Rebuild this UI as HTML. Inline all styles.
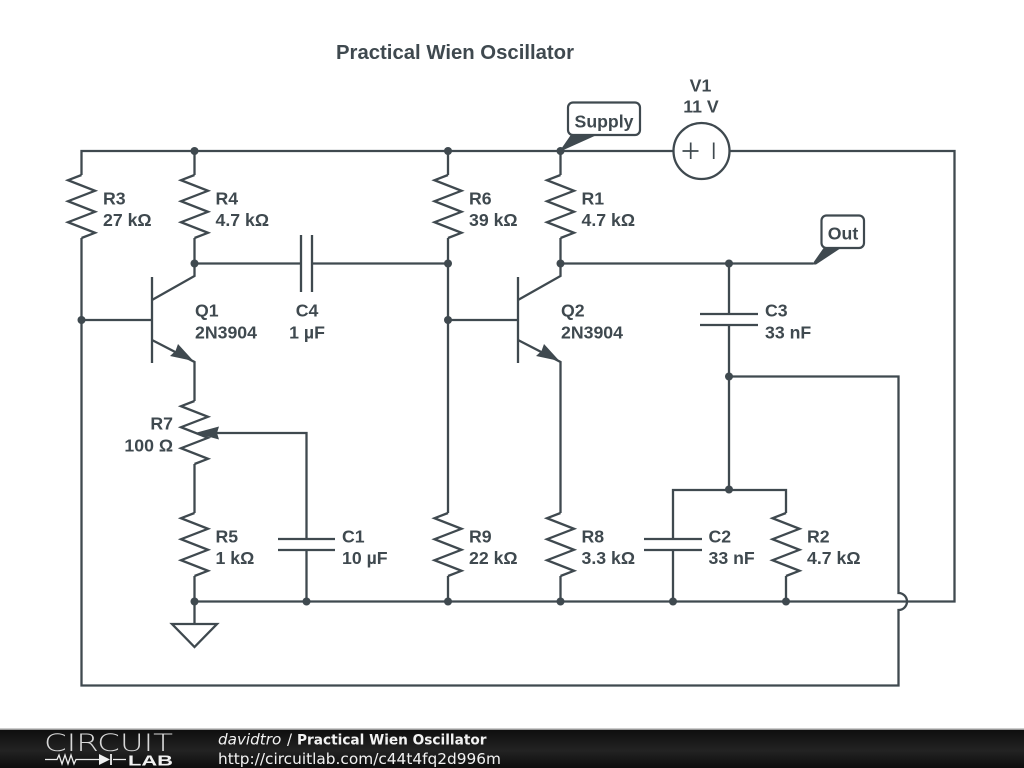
<!DOCTYPE html>
<html><head><meta charset="utf-8"><style>
html,body{margin:0;padding:0;background:#fff;width:1024px;height:768px;overflow:hidden}
svg{display:block}
.w{fill:none;stroke:#3f494f;stroke-width:2.3;stroke-linejoin:miter}
.p{fill:none;stroke:#3f494f;stroke-width:2.3}
.f{fill:#3f494f;stroke:none}
text.l{font:bold 17.7px "Liberation Sans",sans-serif;fill:#3f494f}
</style></head><body>
<svg width="1024" height="768" viewBox="0 0 1024 768" xmlns="http://www.w3.org/2000/svg">
<defs>
<linearGradient id="bar" x1="0" y1="0" x2="0" y2="1"><stop offset="0" stop-color="#0d0d0d"/><stop offset=".55" stop-color="#232323"/><stop offset="1" stop-color="#0d0d0d"/></linearGradient>
<path id="res" d="M0 0L-13.5 5.2L13.5 15.8L-13.5 26.2L13.5 36.8L-13.5 47.2L13.5 57.8L0 63" class="w"/>
</defs>
<text x="336" y="59" textLength="238" lengthAdjust="spacingAndGlyphs" style="font:bold 20.3px 'Liberation Sans',sans-serif;fill:#3f494f">Practical Wien Oscillator</text>

<!-- wires -->
<path class="w" d="M673 151H81.5V175M81.5 238V685.5H898.5V610A8.5 8.5 0 0 0 898.5 593V376.5H729"/>
<path class="w" d="M730 151H954.5V601.5H194.5"/>
<path class="w" d="M194.5 151V175M194.500 238V276L152 300M194.500 263.500H301M312 263.500H448M81.500 320H152M152 340L194.500 362V401M194.500 464V513M194.500 576V624"/>
<path class="w" d="M152 277V363M518 277V363M448 151V175M448 238V513M448 576V601M448 320H518"/>
<path class="w" d="M560.500 151V175M560.500 238V276L518 300M518 340L560.500 362V513M560.500 576V601M560.500 263.500H813"/>
<path class="w" d="M729 263.500V314M729 325V490M673 539V490H786V513M786 576V601M673 550V601"/>
<path class="w" d="M306.500 539V433H215M306.500 550V601"/>
<!-- capacitors -->
<path class="p" d="M301 235V292M312 235V292M700 314H758M700 325H758M278 539H335M278 550H335M644 539H702M644 550H702"/>
<!-- resistors -->
<use href="#res" x="81.5" y="175"/><use href="#res" x="194.5" y="175"/><use href="#res" x="448" y="175"/><use href="#res" x="560.5" y="175"/>
<use href="#res" x="194.5" y="401"/><use href="#res" x="194.5" y="513"/><use href="#res" x="448" y="513"/><use href="#res" x="560.5" y="513"/><use href="#res" x="786" y="513"/>
<!-- arrows -->
<path class="f" d="M193.500 361L170 356L175.500 351L178 344Z"/>
<path class="f" d="M559.500 361L536 356L541.500 351L544 344Z"/>
<path class="f" d="M195 433L219 426.500L217 433L219 439.500Z"/>
<!-- ground -->
<path class="w" d="M172 624H217L194.500 647Z"/>
<!-- source -->
<circle cx="701.5" cy="151" r="28" fill="#fff" stroke="#3f494f" stroke-width="2.300"/>
<path fill="none" stroke="#3f494f" stroke-width="1.700" d="M682.500 151H698.500M690.700 142.500V159M713.700 142.500V159"/>
<!-- dots -->
<g class="f">
<circle cx="194.5" cy="151" r="4"/><circle cx="448" cy="151" r="4"/><circle cx="560.5" cy="151" r="4"/>
<circle cx="194.5" cy="263.5" r="4"/><circle cx="448" cy="263.5" r="4"/><circle cx="560.5" cy="263.5" r="4"/><circle cx="729" cy="263.5" r="4"/>
<circle cx="81.5" cy="320" r="4"/><circle cx="448" cy="320" r="4"/><circle cx="729" cy="376.5" r="4"/><circle cx="729" cy="489.5" r="4"/>
<circle cx="194.5" cy="601.5" r="4"/><circle cx="306.5" cy="601.5" r="4"/><circle cx="448" cy="601.5" r="4"/><circle cx="560.5" cy="601.5" r="4"/><circle cx="673" cy="601.5" r="4"/><circle cx="786" cy="601.5" r="4"/>
</g>
<!-- flags -->
<path class="f" d="M559 152L571.500 134H599Z"/>
<rect x="568" y="102.500" width="72" height="32.500" rx="5" fill="#fff" stroke="#3f494f" stroke-width="2.200"/>
<path class="f" d="M812 264.500L825 246H844L816 264.500Z"/>
<rect x="821.500" y="215.500" width="42.500" height="32.500" rx="5" fill="#fff" stroke="#3f494f" stroke-width="2.200"/>
<!-- labels -->
<g transform="translate(0,0.5)">
<text class="l" x="604" y="127" text-anchor="middle">Supply</text>
<text class="l" x="843" y="239" text-anchor="middle">Out</text>
<text class="l" x="700.500" y="91" text-anchor="middle">V1</text><text class="l" x="701" y="112" text-anchor="middle">11 V</text>
<text class="l" x="103" y="204">R3</text><text class="l" x="103" y="225.500">27 kΩ</text>
<text class="l" x="215.500" y="204">R4</text><text class="l" x="215.500" y="225.500">4.7 kΩ</text>
<text class="l" x="469" y="204">R6</text><text class="l" x="469" y="225.500">39 kΩ</text>
<text class="l" x="581.500" y="204">R1</text><text class="l" x="581.500" y="225.500">4.7 kΩ</text>
<text class="l" x="195" y="316">Q1</text><text class="l" x="195" y="338">2N3904</text>
<text class="l" x="561" y="316">Q2</text><text class="l" x="561" y="338">2N3904</text>
<text class="l" x="307" y="316" text-anchor="middle">C4</text><text class="l" x="307" y="338" text-anchor="middle">1 µF</text>
<text class="l" x="765" y="316">C3</text><text class="l" x="765" y="338">33 nF</text>
<text class="l" x="173" y="429" text-anchor="end">R7</text><text class="l" x="173" y="451" text-anchor="end">100 Ω</text>
<text class="l" x="215.500" y="542">R5</text><text class="l" x="215.500" y="563.500">1 kΩ</text>
<text class="l" x="342" y="542">C1</text><text class="l" x="342" y="563.500">10 µF</text>
<text class="l" x="469" y="542">R9</text><text class="l" x="469" y="563.500">22 kΩ</text>
<text class="l" x="581.500" y="542">R8</text><text class="l" x="581.500" y="563.500">3.3 kΩ</text>
<text class="l" x="708.500" y="542">C2</text><text class="l" x="708.500" y="563.500">33 nF</text>
<text class="l" x="807" y="542">R2</text><text class="l" x="807" y="563.500">4.7 kΩ</text>
</g>
<!-- footer -->
<rect x="0" y="729" width="1024" height="39" fill="url(#bar)"/>
<rect x="0" y="728.500" width="1024" height="1.500" fill="#999"/>
<text x="44" y="751" textLength="129" lengthAdjust="spacingAndGlyphs" style="font-family:'DejaVu Sans',sans-serif;font-weight:200;font-size:24px;fill:#d8d8d8">CIRCUIT</text>
<path fill="none" stroke="#eee" stroke-width="1.300" d="M45 759.500H57L59 755L62 764L65 755L68 764L71 755L74 764L76 759.500H99M113 759.500H126"/>
<path fill="#eee" d="M99 754L110 759.500L99 765Z"/>
<path fill="none" stroke="#eee" stroke-width="1.800" d="M111 754V765"/>
<text x="128" y="765.500" textLength="45" lengthAdjust="spacingAndGlyphs" style="font:bold 15px 'Liberation Sans',sans-serif;fill:#f2f2f2">LAB</text>
<text x="218" y="744.500" style="font:italic 15.200px 'DejaVu Sans',sans-serif;fill:#f2f2f2">davidtro</text>
<text x="287" y="744.500" style="font:15px 'DejaVu Sans',sans-serif;fill:#f2f2f2">/</text>
<text x="297" y="744.500" textLength="189.500" lengthAdjust="spacingAndGlyphs" style="font:bold 14.500px 'DejaVu Sans',sans-serif;fill:#f2f2f2">Practical Wien Oscillator</text>
<text x="218" y="764" textLength="283" lengthAdjust="spacingAndGlyphs" style="font:15.300px 'DejaVu Sans',sans-serif;fill:#f2f2f2">http://circuitlab.com/c44t4fq2d996m</text>
</svg>
</body></html>
